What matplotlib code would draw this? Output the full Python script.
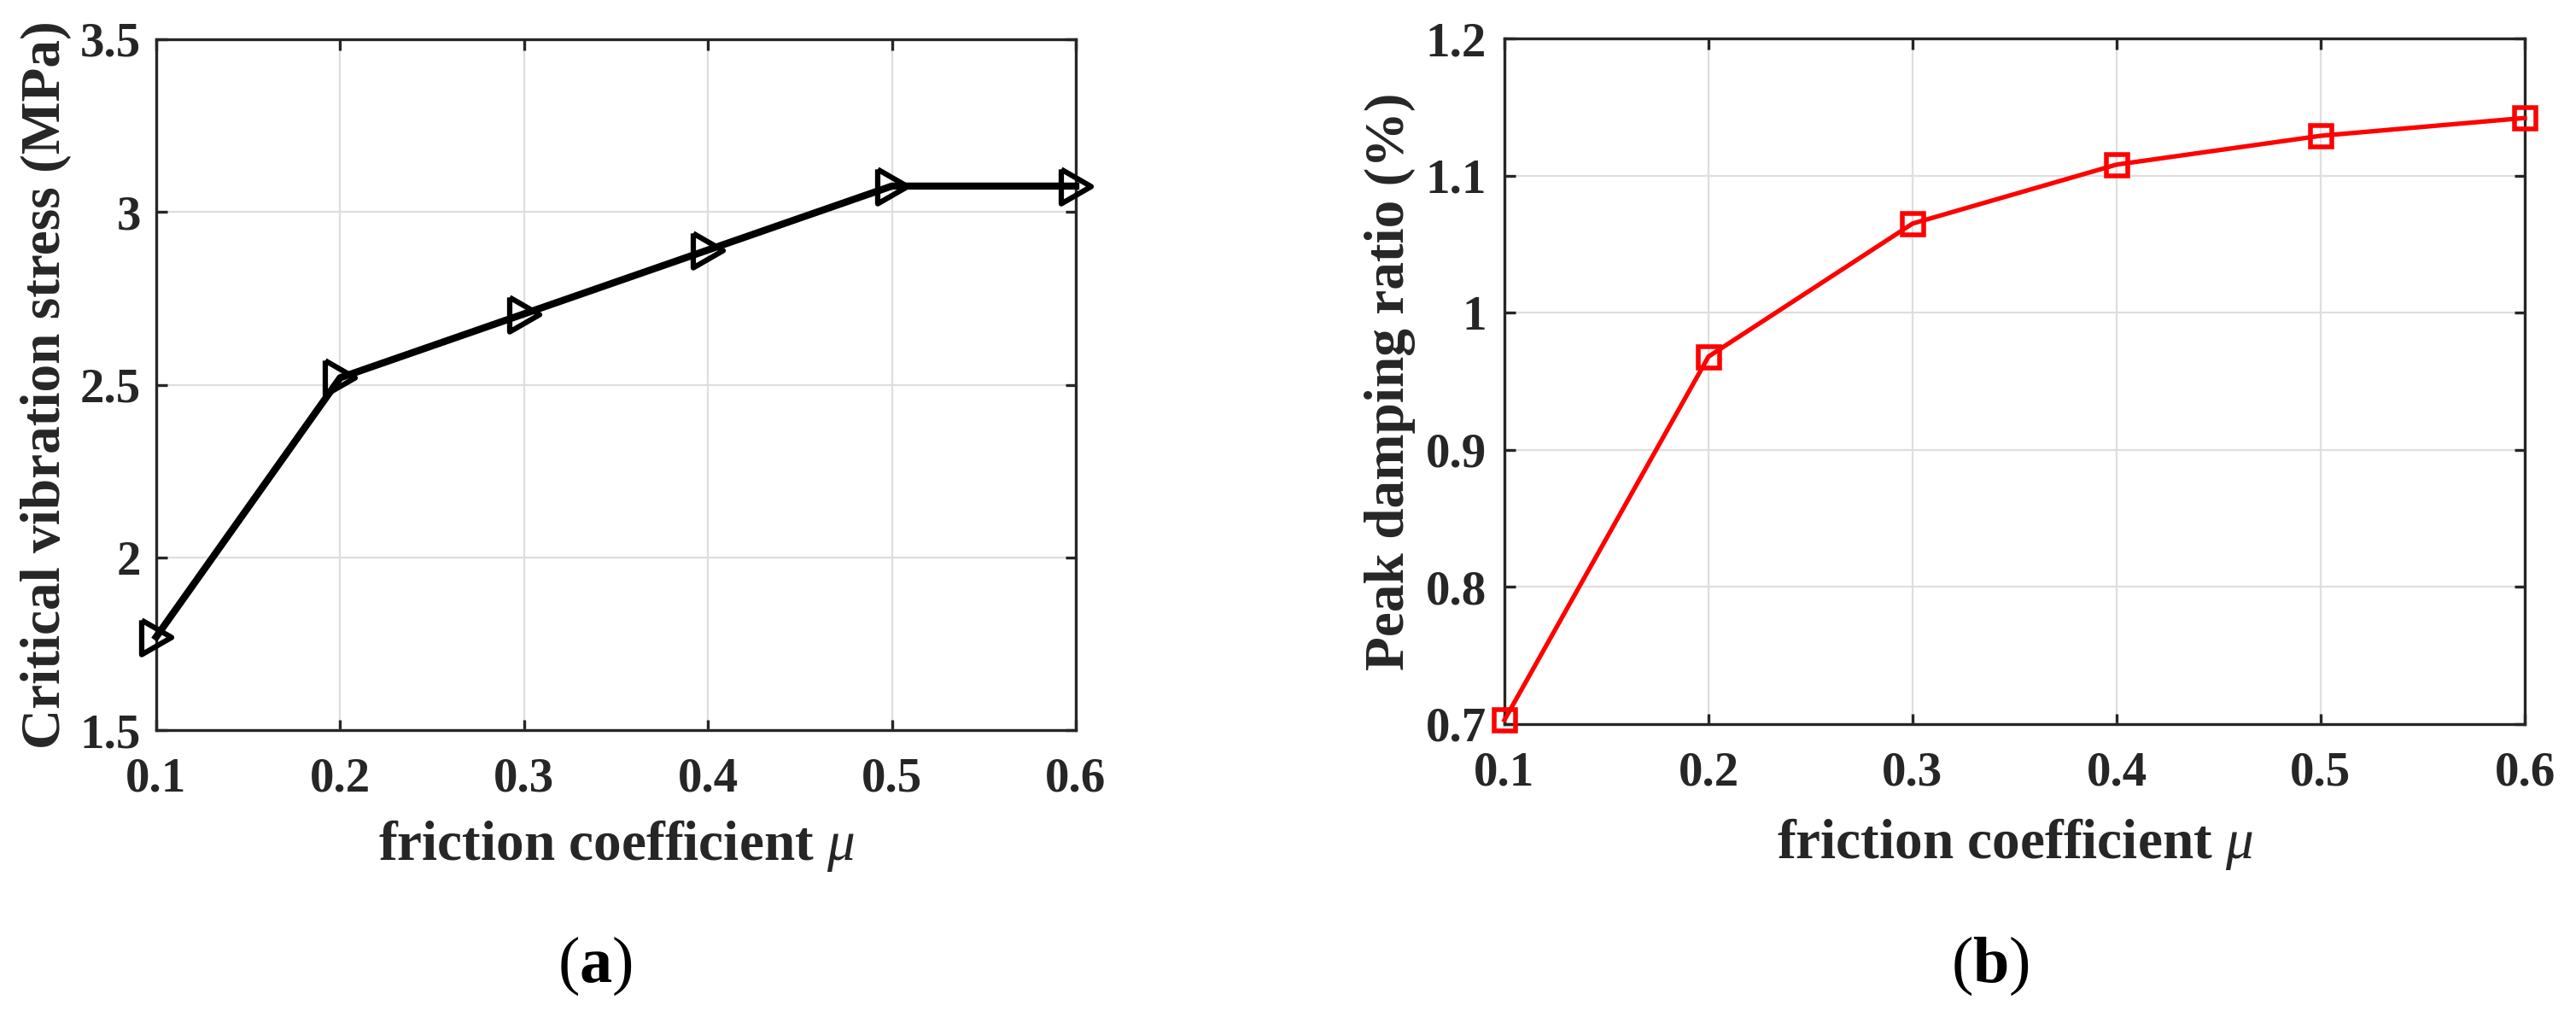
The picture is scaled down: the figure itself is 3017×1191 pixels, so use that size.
import matplotlib
matplotlib.use("Agg")
import matplotlib.pyplot as plt
from matplotlib.ticker import FuncFormatter

plt.rcParams['font.family'] = ['Liberation Serif', 'DejaVu Serif']
plt.rcParams['mathtext.fontset'] = 'custom'
plt.rcParams['mathtext.rm'] = 'Liberation Serif'
plt.rcParams['mathtext.it'] = 'Liberation Serif:italic'
plt.rcParams['mathtext.bf'] = 'Liberation Serif:bold'

# ---- data ----
mu = [0.1, 0.2, 0.3, 0.4, 0.5, 0.6]
critical_stress = [1.77, 2.52, 2.705, 2.89, 3.075, 3.075]
peak_damping = [0.703, 0.968, 1.065, 1.108, 1.129, 1.142]

xticks = [0.1, 0.2, 0.3, 0.4, 0.5, 0.6]
yticks_a = [1.5, 2, 2.5, 3, 3.5]
yticks_b = [0.7, 0.8, 0.9, 1.0, 1.1, 1.2]

xlabel = r"friction coefficient $\mu$"
ylabel_a = "Critical vibration stress (MPa)"
ylabel_b = "Peak damping ratio (%)"

W, H = 3017, 1191
fig = plt.figure(figsize=(W / 100, H / 100), dpi=100, facecolor='white')

def px_axes(l, t, r, b):
    return fig.add_axes([l / W, 1 - b / H, (r - l) / W, (b - t) / H])

ax1 = px_axes(183, 46, 1260, 855)
ax2 = px_axes(1762, 45, 2957, 848)

dark = '#262626'
fmt = FuncFormatter(lambda v, p: f"{v:g}")

tri = [(-0.87, 1.0), (0.87, 0.0), (-0.87, -1.0), (-0.87, 1.0)]

ax1.plot(mu, critical_stress, color='black', lw=6, marker=tri, ms=29,
         mfc='none', mec='black', mew=4.5, clip_on=False, zorder=5)
ax2.plot(mu, peak_damping, color='#ff0000', lw=3.8, marker='s', ms=18,
         mfc='none', mec='#ff0000', mew=4.0, clip_on=False, zorder=5)

for ax, yt, ylab, ypad in [(ax1, yticks_a, ylabel_a, 13), (ax2, yticks_b, ylabel_b, 15)]:
    ax.set_xlim(0.1, 0.6)
    ax.set_ylim(yt[0], yt[-1])
    ax.set_xticks(xticks)
    ax.set_yticks(yt)
    ax.xaxis.set_major_formatter(fmt)
    ax.yaxis.set_major_formatter(fmt)
    ax.grid(True, color='#dedede', lw=1.6)
    ax.set_axisbelow(True)
    for s in ax.spines.values():
        s.set_color(dark)
        s.set_linewidth(2.4)
    ax.tick_params(axis='both', which='major', direction='in', length=9, width=2.4,
                   color=dark, labelcolor=dark, labelsize=41,
                   top=True, right=True)
    ax.tick_params(axis='x', pad=23)
    ax.tick_params(axis='y', pad=ypad)
    for lab in ax.get_xticklabels() + ax.get_yticklabels():
        lab.set_fontweight('bold')
    ax.set_xlabel(xlabel, fontsize=47, fontweight='bold', color=dark)
    ax.set_ylabel(ylab, fontsize=47, fontweight='bold', color=dark)

ax1.xaxis.set_label_coords(0.5, (855 - 958) / (855 - 46))
ax2.xaxis.set_label_coords(0.5, (848 - 956) / (848 - 45))
ax1.yaxis.set_label_coords((84 - 183) / (1260 - 183), 0.5)
ax2.yaxis.set_label_coords((1658 - 1762) / (2957 - 1762), 0.5)

fig.text(697 / W, 1 - 1150 / H, r"($\mathbf{a}$)", fontsize=55, ha='center',
         va='baseline', color='black')
fig.text(2331 / W, 1 - 1150 / H, r"($\mathbf{b}$)", fontsize=55, ha='center',
         va='baseline', color='black')

fig.savefig("out.png", dpi=100, facecolor='white')
